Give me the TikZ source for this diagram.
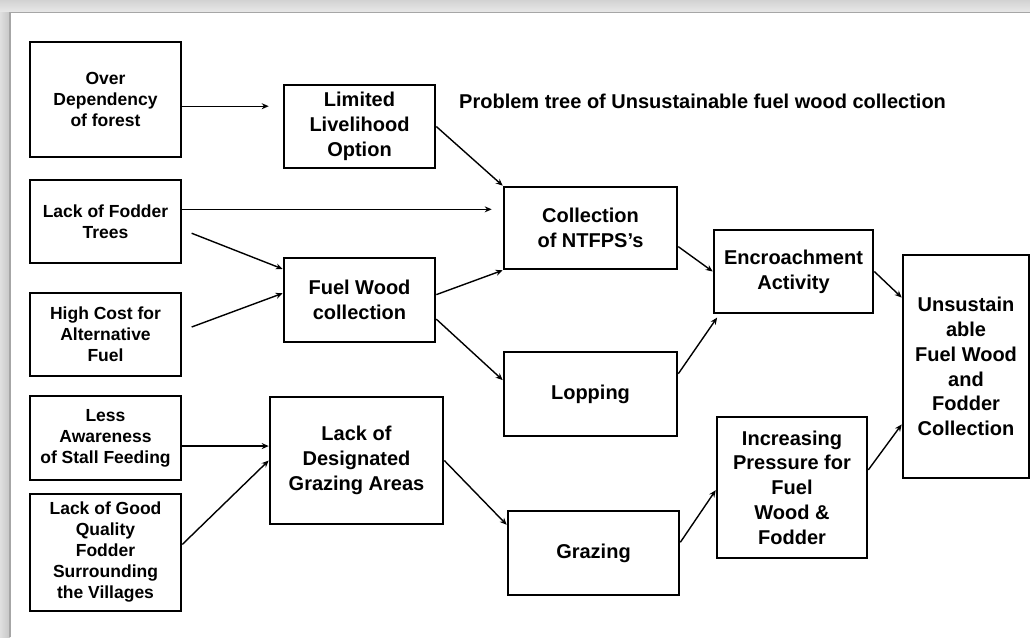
\documentclass[tikz,border=0pt]{standalone}
\usepackage{fontspec}
\setmainfont{Liberation Sans}
\usetikzlibrary{arrows.meta,calc}

\begin{document}
\begin{tikzpicture}[
  x=1pt,y=-1pt,
  box/.style={draw,line width=2.6pt,align=center,inner sep=0pt,font=\fontsize{17.5}{21}\selectfont\bfseries},
  bigbox/.style={box,font=\fontsize{20}{24.7}\selectfont\bfseries},
  arrow/.style={-{Stealth[length=7pt,width=6pt]},line width=1.4pt}
]
\useasboundingbox (0,0) rectangle (1030,637);
% page frame
\fill[white] (0,0) rectangle (1030,637);
\shade[top color=gray!35,bottom color=gray!18] (0,0) rectangle (1030,12);
\shade[left color=gray!25,right color=gray!45] (0,12) rectangle (10,637);
\draw[gray!70,line width=1.8pt] (10,637) -- (10,12.5) -- (1030,12.5);

% causes
\node[box,minimum width=151,minimum height=115] (dep) at (105.5,99.5) {Over\\Dependency\\of forest};
\node[box,minimum width=151,minimum height=83] (fodder) at (105.5,221.5) {Lack of Fodder\\Trees};
\node[box,minimum width=151,minimum height=83] (cost) at (105.5,334.5) {High Cost for\\Alternative\\Fuel};
\node[box,minimum width=151,minimum height=84] (aware) at (105.5,438) {Less\\Awareness\\of Stall Feeding};
\node[box,minimum width=151,minimum height=117] (quality) at (105.5,552.5) {Lack of Good\\Quality\\Fodder\\Surrounding\\the Villages};

\node[bigbox,minimum width=151,minimum height=83] (liveli) at (359.5,126.5) {Limited\\Livelihood\\Option};
\node[bigbox,minimum width=151,minimum height=84] (fuelwood) at (359.5,300) {Fuel Wood\\collection};
\node[bigbox,minimum width=173,minimum height=127] (grazearea) at (356.5,460.5) {Lack of\\Designated\\Grazing Areas};

\node[bigbox,minimum width=173,minimum height=82] (ntfp) at (590.5,228) {Collection\\of NTFPS's};
\node[bigbox,minimum width=173,minimum height=84] (lopping) at (590.5,394) {Lopping};
\node[bigbox,minimum width=171,minimum height=84] (grazing) at (593.5,553) {Grazing};

\node[bigbox,minimum width=159,minimum height=83] (encroach) at (793.5,271.5) {Encroachment\\Activity};
\node[bigbox,minimum width=150,minimum height=141] (pressure) at (792,487.5) {Increasing\\Pressure for\\Fuel\\Wood \&\\Fodder};

\node[bigbox,minimum width=126,minimum height=223] (unsust) at (966,366.5) {Unsustain\\able\\Fuel Wood\\and\\Fodder\\Collection};

\node[font=\fontsize{20}{24}\selectfont\bfseries,anchor=west,inner sep=0pt] (title) at (459,101) {Problem tree of Unsustainable fuel wood collection};

% links
\draw[arrow,shorten >=14pt] (dep.-5) -- (dep.-5 -| liveli.west);
\draw[arrow] (liveli.east) -- (ntfp.north west);
\draw[arrow,shorten >=11pt] (fodder.9) -- (fodder.9 -| ntfp.west);
\draw[arrow,shorten <=10pt] (fodder.-6) -- (fuelwood.158);
\draw[arrow,shorten <=10pt] (cost.3) -- (fuelwood.175);
\draw[arrow] (fuelwood.4) -- (ntfp.south west);
\draw[arrow] (fuelwood.-14) -- (lopping.171);
\draw[arrow] (aware.-6) -- (aware.-6 -| grazearea.west);
\draw[arrow] (quality.6) -- (grazearea.west);
\draw[arrow] (grazearea.east) -- (grazing.162);
\draw[arrow] (ntfp.-12) -- (encroach.west);
\draw[arrow,shorten >=4pt] (lopping.13) -- (encroach.210);
\draw[arrow] (grazing.7) -- (pressure.182);
\draw[arrow] (encroach.east) -- (unsust.133);
\draw[arrow] (pressure.13) -- (unsust.222);
\end{tikzpicture}
\end{document}
